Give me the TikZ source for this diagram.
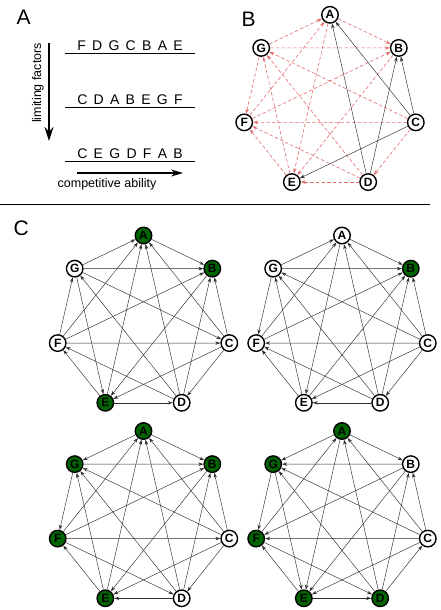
\documentclass[tikz,border=0pt]{standalone}
\usepackage{fontspec}
\setmainfont{Liberation Sans}
\usetikzlibrary{arrows.meta}
\definecolor{dkgreen}{RGB}{0,100,0}
\definecolor{dashred}{RGB}{226,108,108}
\definecolor{edgegray}{RGB}{45,45,45}
\newcommand\rankrow[1]{\spaceskip=6.3pt\relax #1}
\tikzset{
  sp/.style={circle, draw, line width=1.4pt, fill=white, minimum size=16.5pt, inner sep=0pt, font=\fontsize{12}{12}\selectfont\bfseries},
  alive/.style={fill=dkgreen},
  lost/.style={},
  beat/.style={edgegray, line width=0.45pt, -{Stealth[length=5pt,width=3.4pt]}},
  weakbeat/.style={dashred, dash pattern=on 3.5pt off 2.2pt, line width=0.6pt, -{Stealth[length=5pt,width=3.4pt]}},
  panel/.style={anchor=base west, font=\fontsize{21}{21}\selectfont},
  rank/.style={anchor=base, font=\fontsize{14}{14}\selectfont},
  small/.style={font=\fontsize{12.5}{12.5}\selectfont},
}
\begin{document}
\begin{tikzpicture}[x=1pt, y=-1pt]
	\useasboundingbox (0,0) rectangle (440,610);

	% panel A: rankings
	\node[panel] (labA) at (13,25) {A};
	\node[rank] (r1) at (130,50.7) {\rankrow{F D G C B A E}};
	\draw[line width=0.8pt] (65,53) -- (195,53);
	\node[rank] (r2) at (130,104.7) {\rankrow{C D A B E G F}};
	\draw[line width=0.8pt] (65,107) -- (195,107);
	\node[rank] (r3) at (130,158.7) {\rankrow{C E G D F A B}};
	\draw[line width=0.8pt] (65,161) -- (195,161);
	\coordinate (limtop) at (49,43);
	\coordinate (limbot) at (49,141);
	\draw[line width=1.1pt, -{Stealth[length=14pt,width=9pt]}] (limtop) -- (limbot);
	\node[small, rotate=90] (lim) at (38,83) {limiting factors};
	\coordinate (compl) at (77,173);
	\coordinate (compr) at (183,173);
	\draw[line width=1.1pt, -{Stealth[length=12pt,width=7pt]}] (compl) -- (compr);
	\node[small] (comp) at (107,184.5) {competitive ability};

	% panel B: majority tournament
	\node[panel] (labB) at (238,27) {B};
	\begin{scope}[shift={(330,102.8)}]
		\foreach \n [count=\k from 0] in {A,B,C,D,E,F,G}
			\node[sp] (b\n) at ({-90+\k*360/7}:88) {\n};
	\end{scope}
	\foreach \s/\t in {A/B,A/E,F/A,G/A,B/E,F/B,G/B,C/D,C/F,C/G,D/E,D/F,D/G,E/F,E/G,G/F}
		\draw[weakbeat] (b\s) -- (b\t);
	\foreach \s/\t in {C/A,D/A,C/B,D/B,C/E}
		\draw[beat] (b\s) -- (b\t);

	\draw[line width=0.9pt] (0,204) -- (430,204);

	% panel C: four tournaments
	\node[panel] (labC) at (10,235) {C};
	\begin{scope}[shift={(143.5,323.5)}]
		\foreach \n/\f [count=\k from 0] in {A/alive,B/alive,C/lost,D/lost,E/alive,F/lost,G/lost}
			\node[sp,\f] (p\n) at ({-90+\k*360/7}:88) {\n};
	\end{scope}
	\foreach \s/\t in {G/A,A/B,G/B,F/G,E/F,E/D,C/D,C/B,F/C,G/C,D/G,G/E,F/A,F/B,E/A,B/E,C/E,D/F,D/A,D/B,C/A}
		\draw[beat] (p\s) -- (p\t);

	\begin{scope}[shift={(342,323.5)}]
		\foreach \n/\f [count=\k from 0] in {A/lost,B/alive,C/lost,D/lost,E/lost,F/lost,G/lost}
			\node[sp,\f] (q\n) at ({-90+\k*360/7}:88) {\n};
	\end{scope}
	\foreach \s/\t in {G/A,A/B,G/B,G/F,E/F,D/E,C/D,C/B,C/F,C/G,D/G,E/G,F/A,F/B,A/E,E/B,C/E,D/F,D/A,D/B,C/A}
		\draw[beat] (q\s) -- (q\t);

	\begin{scope}[shift={(143.5,519)}]
		\foreach \n/\f [count=\k from 0] in {A/alive,B/alive,C/lost,D/lost,E/alive,F/alive,G/alive}
			\node[sp,\f] (r\n) at ({-90+\k*360/7}:88) {\n};
	\end{scope}
	\foreach \s/\t in {A/G,A/B,G/B,G/F,E/F,D/E,C/D,C/B,F/C,C/G,D/G,E/G,F/A,F/B,E/A,B/E,C/E,F/D,D/A,D/B,C/A}
		\draw[beat] (r\s) -- (r\t);

	\begin{scope}[shift={(342,519)}]
		\foreach \n/\f [count=\k from 0] in {A/alive,B/lost,C/lost,D/alive,E/alive,F/alive,G/alive}
			\node[sp,\f] (s\n) at ({-90+\k*360/7}:88) {\n};
	\end{scope}
	\foreach \s/\t in {A/G,A/B,B/G,G/F,E/F,E/D,D/C,C/B,C/F,C/G,D/G,G/E,F/A,B/F,A/E,B/E,C/E,F/D,D/A,D/B,C/A}
		\draw[beat] (s\s) -- (s\t);
\end{tikzpicture}
\end{document}
